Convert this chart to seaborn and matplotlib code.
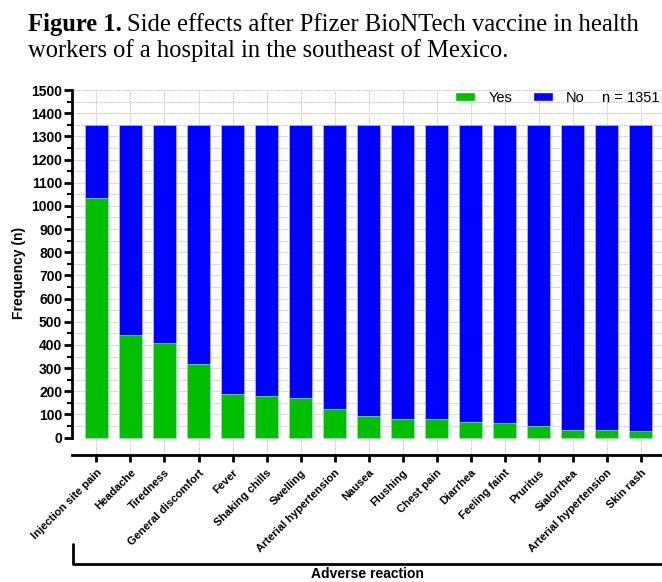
import numpy as np
import pandas as pd
import matplotlib
matplotlib.use("Agg")
import matplotlib.pyplot as plt
import seaborn as sns
from matplotlib.lines import Line2D
from matplotlib.patches import Patch
from matplotlib.ticker import FixedLocator

# Data
reactions = ["Injection site pain", "Headache", "Tiredness", "General discomfort",
             "Fever", "Shaking chills", "Swelling", "Arterial hypertension",
             "Nausea", "Flushing", "Chest pain", "Diarrhea", "Feeling faint",
             "Pruritus", "Sialorrhea", "Arterial hypertension", "Skin rash"]
yes_counts = [1035, 443, 408, 318, 188, 179, 172, 122, 93, 80, 79, 69, 62, 49, 34, 33, 30]
no_counts = [316, 908, 943, 1033, 1163, 1172, 1179, 1229, 1258, 1271, 1272, 1282, 1289,
             1302, 1317, 1318, 1321]
n_total = 1351

GREEN = "#00BE00"
BLUE = "#0000FF"

sns.set_style("white")
plt.rcParams["font.family"] = ["Liberation Sans", "DejaVu Sans"]
for key in ["text.color", "axes.labelcolor", "xtick.color", "ytick.color", "axes.edgecolor"]:
    plt.rcParams[key] = "black"

df = pd.DataFrame({
    "pos": np.arange(len(reactions)),
    "yes": yes_counts,
    "total": np.array(yes_counts) + np.array(no_counts),
})

fig = plt.figure(figsize=(6.62, 5.82), dpi=100)
ax = fig.add_axes([72 / 662, 1 - 455 / 582, (662 - 72) / 662, 365 / 582])

sns.barplot(data=df, x="pos", y="total", color=BLUE, saturation=1, width=0.68,
            ax=ax, zorder=3, edgecolor="#c8c8ff", linewidth=0.4)
sns.barplot(data=df, x="pos", y="yes", color=GREEN, saturation=1, width=0.68,
            ax=ax, zorder=4, edgecolor="#c8ffc8", linewidth=0.4)

ax.set_xlim(-0.72, 16.63)
ax.set_ylim(-75, 1500)

# y axis
ax.yaxis.set_major_locator(FixedLocator(np.arange(0, 1501, 100)))
ax.yaxis.set_minor_locator(FixedLocator(np.arange(50, 1500, 100)))
ax.set_yticklabels([str(v) for v in range(0, 1501, 100)], fontsize=10, fontweight="bold")
ax.tick_params(axis="y", which="major", direction="out", length=6, width=2, left=True, pad=1)
ax.tick_params(axis="y", which="minor", direction="out", length=3.5, width=1.5, left=True)
ax.set_ylabel("Frequency (n)", fontsize=10, fontweight="bold", labelpad=4)

# x axis
ax.set_xticks(df["pos"])
ax.set_xticklabels(reactions, rotation=45, ha="right", rotation_mode="anchor",
                   fontsize=8, fontweight="bold")
ax.tick_params(axis="x", direction="out", length=5, width=2, bottom=True, pad=4)
ax.set_xlabel("")

for s in ["top", "right"]:
    ax.spines[s].set_visible(False)
ax.spines["left"].set_bounds(0, 1500)
ax.spines["left"].set_linewidth(2)
ax.spines["bottom"].set_linewidth(2)

# dotted grid
for y in np.arange(50, 1501, 50):
    ax.axhline(y, color="#b0b0b0", lw=0.6, ls=(0, (1, 1)), zorder=1)
ax.grid(axis="x", color="#b0b0b0", lw=0.6, ls=(0, (1, 1)), zorder=1)
ax.set_axisbelow(True)

# legend
handles = [Patch(facecolor=GREEN, label="Yes"), Patch(facecolor=BLUE, label="No")]
ax.legend(handles=handles, loc="center right", bbox_to_anchor=(585 / 662, 1 - 98 / 582),
          bbox_transform=fig.transFigure, ncol=2, frameon=False, fontsize=10.5,
          handlelength=1.4, handleheight=0.6, columnspacing=1.4, handletextpad=0.9,
          borderpad=0, borderaxespad=0)
fig.text(660 / 662, 1 - 98 / 582, f"n = {n_total}", ha="right", va="center", fontsize=10.5)

# bracket under the x labels
fig.add_artist(Line2D([72.5 / 662, 72.5 / 662, 1.0], [1 - 544 / 582, 1 - 564 / 582, 1 - 564 / 582],
                      color="black", lw=2))
fig.text((72 + 662) / 2 / 662, 1 - 574 / 582, "Adverse reaction", ha="center", va="center",
         fontsize=10, fontweight="bold")

# caption
serif = ["Liberation Serif", "DejaVu Serif"]
t1 = fig.text(28 / 662, 1 - 31 / 582, "Figure 1.", family=serif, fontsize=17.7,
              fontweight="bold", va="baseline")
fig.canvas.draw()
bb = t1.get_window_extent(renderer=fig.canvas.get_renderer())
fig.text(bb.x1 / fig.bbox.width + 5 / 662, 1 - 31 / 582,
         "Side effects after Pfizer BioNTech vaccine in health", family=serif,
         fontsize=17.7, va="baseline")
fig.text(28 / 662, 1 - 57 / 582, "workers of a hospital in the southeast of Mexico.",
         family=serif, fontsize=17.7, va="baseline")

fig.savefig("out.png", dpi=100)
